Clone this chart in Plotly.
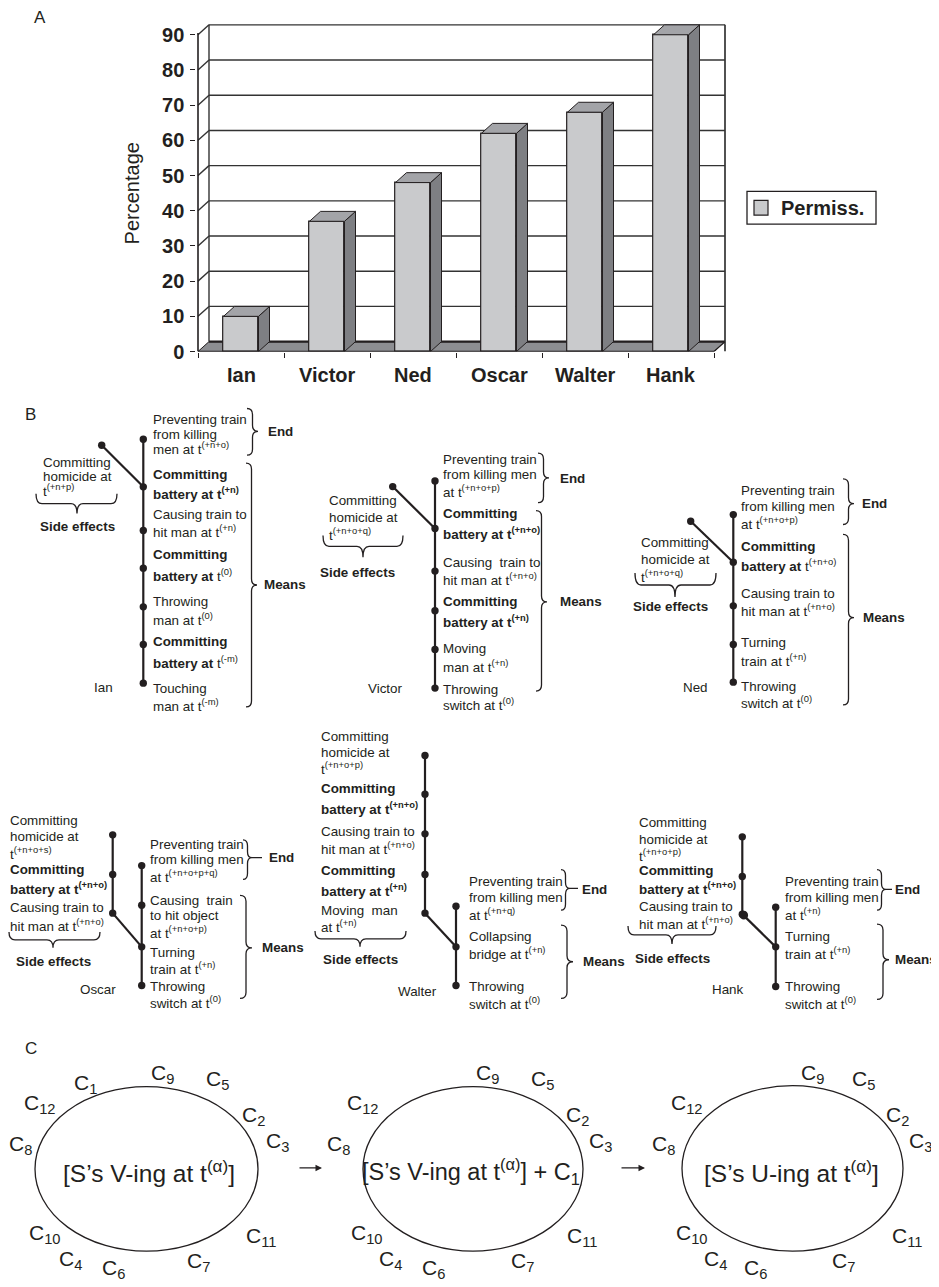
import plotly.graph_objects as go

W, H = 939, 1287
MARGIN = 8                       # default page margin of the browser body
FW, FH = W - MARGIN, H - MARGIN  # figure size so the figure ends at the window edge
INK = "#231f20"
FONT = "Liberation Sans, Arial, Helvetica, sans-serif"

# ---------------- Panel A data ----------------
categories = ["Ian", "Victor", "Ned", "Oscar", "Walter", "Hank"]
permissible_pct = [10, 37, 48, 62, 68, 90]
y_ticks = [0, 10, 20, 30, 40, 50, 60, 70, 80, 90]
series_name = "Permiss."
y_title = "Percentage"

# ---------------- Panel B data (text of each tree) ----------------
ian_main = ["Preventing train", "from killing", "men at t<sup>(+n+o)</sup>",
            "<b>Committing</b>", "<b>battery at t<sup>(+n)</sup></b>",
            "Causing train to", "hit man at t<sup>(+n)</sup>",
            "<b>Committing</b>", "<b>battery at</b> t<sup>(0)</sup>",
            "Throwing", "man at t<sup>(0)</sup>",
            "<b>Committing</b>", "<b>battery at</b> t<sup>(-m)</sup>",
            "Touching", "man at t<sup>(-m)</sup>"]
ian_side = ["Committing", "homicide at", "t<sup>(+n+p)</sup>"]

victor_main = ["Preventing train", "from killing men", "at t<sup>(+n+o+p)</sup>",
               "<b>Committing</b>", "<b>battery at t<sup>(+n+o)</sup></b>",
               "Causing  train to", "hit man at t<sup>(+n+o)</sup>",
               "<b>Committing</b>", "<b>battery at t<sup>(+n)</sup></b>",
               "Moving", "man at t<sup>(+n)</sup>",
               "Throwing", "switch at t<sup>(0)</sup>"]
victor_side = ["Committing", "homicide at", "t<sup>(+n+o+q)</sup>"]

ned_main = ["Preventing train", "from killing men", "at t<sup>(+n+o+p)</sup>",
            "<b>Committing</b>", "<b>battery at</b> t<sup>(+n+o)</sup>",
            "Causing train to", "hit man at t<sup>(+n+o)</sup>",
            "Turning", "train at t<sup>(+n)</sup>",
            "Throwing", "switch at t<sup>(0)</sup>"]
ned_side = ["Committing", "homicide at", "t<sup>(+n+o+q)</sup>"]

oscar_main = ["Preventing train", "from killing men", "at t<sup>(+n+o+p+q)</sup>",
              "Causing  train", "to hit object", "at t<sup>(+n+o+p)</sup>",
              "Turning", "train at t<sup>(+n)</sup>",
              "Throwing", "switch at t<sup>(0)</sup>"]
oscar_side = ["Committing", "homicide at", "t<sup>(+n+o+s)</sup>",
              "<b>Committing</b>", "<b>battery at t<sup>(+n+o)</sup></b>",
              "Causing train to", "hit man at t<sup>(+n+o)</sup>"]

walter_main = ["Preventing train", "from killing men", "at t<sup>(+n+q)</sup>",
               "Collapsing", "bridge at t<sup>(+n)</sup>",
               "Throwing", "switch at t<sup>(0)</sup>"]
walter_side = ["Committing", "homicide at", "t<sup>(+n+o+p)</sup>",
               "<b>Committing</b>", "<b>battery at t<sup>(+n+o)</sup></b>",
               "Causing train to", "hit man at t<sup>(+n+o)</sup>",
               "<b>Committing</b>", "<b>battery at t<sup>(+n)</sup></b>",
               "Moving  man", "at t<sup>(+n)</sup>"]

hank_main = ["Preventing train", "from killing men", "at t<sup>(+n)</sup>",
             "Turning", "train at t<sup>(+n)</sup>",
             "Throwing", "switch at t<sup>(0)</sup>"]
hank_side = ["Committing", "homicide at", "t<sup>(+n+o+p)</sup>",
             "<b>Committing</b>", "<b>battery at t<sup>(+n+o)</sup></b>",
             "Causing train to", "hit man at t<sup>(+n+o)</sup>"]

# ---------------- Panel C data ----------------
c_subs_1 = [1, 9, 5, 12, 2, 8, 3, 10, 11, 4, 6, 7]
c_subs_2 = [9, 5, 12, 2, 8, 3, 10, 11, 4, 6, 7]
c_subs_3 = [9, 5, 12, 2, 8, 3, 10, 11, 4, 6, 7]
c_centers = ["[S\u2019s V-ing at t<sup>(\u03b1)</sup>]",
             "[S\u2019s V-ing at t<sup>(\u03b1)</sup>] + C<sub>1</sub>",
             "[S\u2019s U-ing at t<sup>(\u03b1)</sup>]"]


# ================= helpers (window pixel -> paper) =================
def px(x):
    return (x - MARGIN) / FW


def py(y):
    return 1 - (y - MARGIN) / FH


shapes = []
annotations = []


def add_text(x, y, s, size=13.4, anchor="left", color=INK, bold=False, font=FONT, angle=0):
    if "<sup>" in s:
        y -= 2
    if bold:
        s = "<b>" + s + "</b>"
    annotations.append(dict(x=px(x), y=py(y), xref="paper", yref="paper", text=s,
                            showarrow=False, xanchor=anchor, yanchor="middle",
                            font=dict(family=font, size=size, color=color),
                            textangle=angle))


def add_line(x0, y0, x1, y1, w=2.2, color=INK):
    shapes.append(dict(type="line", xref="paper", yref="paper",
                       x0=px(x0), y0=py(y0), x1=px(x1), y1=py(y1),
                       line=dict(color=color, width=w)))


def add_dot(x, y, r=3.7):
    shapes.append(dict(type="circle", xref="paper", yref="paper",
                       x0=px(x - r), x1=px(x + r), y0=py(y + r), y1=py(y - r),
                       fillcolor=INK, line=dict(color=INK, width=0)))


def P(x, y):
    return f"{px(x):.5f},{py(y):.5f}"


def brace_v(x, y1, y2, ym, w=10, ext=0, r=6):
    xs, xt = x + w * 0.5, x + w
    d = (f"M{P(x, y1)} Q{P(xs, y1)} {P(xs, y1 + r)} L{P(xs, ym - r)} "
         f"Q{P(xs, ym)} {P(xt, ym)} Q{P(xs, ym)} {P(xs, ym + r)} "
         f"L{P(xs, y2 - r)} Q{P(xs, y2)} {P(x, y2)}")
    if ext:
        d += f" M{P(xt, ym)} L{P(xt + ext, ym)}"
    shapes.append(dict(type="path", xref="paper", yref="paper", path=d,
                       line=dict(color=INK, width=1.3)))


def brace_h(x1, x2, y, xm, h=20, r=6):
    ys, yt = y + h * 0.5, y + h
    d = (f"M{P(x1, y)} Q{P(x1, ys)} {P(x1 + r, ys)} L{P(xm - r, ys)} "
         f"Q{P(xm, ys)} {P(xm, yt)} Q{P(xm, ys)} {P(xm + r, ys)} "
         f"L{P(x2 - r, ys)} Q{P(x2, ys)} {P(x2, y)}")
    shapes.append(dict(type="path", xref="paper", yref="paper", path=d,
                       line=dict(color=INK, width=1.3)))


def place_lines(lines, x, ys, size=13.4):
    for s, y in zip(lines, ys):
        add_text(x, y, s, size=size)


# ================= Panel A: faux-3D bar chart =================
FRONT = "#c9cacc"
SIDE = "#7e7f83"
TOP = "#a3a4a8"
FLOOR = "#8d8e92"
EDGE = "#231f20"

X_LEFT_PX = 198.0      # front left edge of plot
CAT_PX = 86.0          # pixels per category
Y0_PX = 354.5          # value 0 (front)
PPU = 3.55             # pixels per percent
DXU = 11.0 / CAT_PX    # depth offset in x units
DZU = 10.0 / PPU       # depth offset in y units
BW = 35.0 / CAT_PX     # bar width

x_rng = [-0.52, 5.72]
y_rng = [0, 94]
xdom = [px(X_LEFT_PX + (x_rng[0] + 0.5) * CAT_PX), px(X_LEFT_PX + (x_rng[1] + 0.5) * CAT_PX)]
ydom = [py(Y0_PX), py(Y0_PX - y_rng[1] * PPU)]

ncat = len(categories)
xs_idx = list(range(ncat))
xl_wall, xr_wall = -0.5, ncat - 0.5
top_v = y_ticks[-1]


def dshape(**kw):
    d = dict(xref="x", yref="y")
    d.update(kw)
    shapes.append(d)


# floor
dshape(type="path", layer="below",
       path=f"M{xl_wall},0 L{xr_wall},0 L{xr_wall + DXU},{DZU} L{xl_wall + DXU},{DZU} Z",
       fillcolor=FLOOR, line=dict(color=EDGE, width=1))
dshape(type="line", layer="below", x0=xl_wall + DXU, y0=DZU, x1=xr_wall + DXU, y1=DZU,
       line=dict(color=EDGE, width=2.2))
# back wall gridlines & left side wall diagonals
for v in y_ticks[1:]:
    dshape(type="line", layer="below", x0=xl_wall + DXU, y0=v + DZU, x1=xr_wall + DXU, y1=v + DZU,
           line=dict(color="#333333", width=1.4))
    dshape(type="line", layer="below", x0=xl_wall, y0=v, x1=xl_wall + DXU, y1=v + DZU,
           line=dict(color="#333333", width=1.4))
# wall verticals
dshape(type="line", layer="below", x0=xl_wall + DXU, y0=DZU, x1=xl_wall + DXU, y1=top_v + DZU,
       line=dict(color="#333333", width=1.4))
dshape(type="line", layer="below", x0=xr_wall + DXU, y0=0, x1=xr_wall + DXU, y1=top_v + DZU,
       line=dict(color="#333333", width=1.7))
dshape(type="line", layer="below", x0=xr_wall, y0=0, x1=xr_wall + DXU, y1=DZU,
       line=dict(color=EDGE, width=1.2))
# front axis lines
dshape(type="line", layer="above", x0=xl_wall, y0=0, x1=xl_wall, y1=top_v + 0.5,
       line=dict(color=EDGE, width=1.6))
dshape(type="line", layer="above", x0=xl_wall, y0=0, x1=xr_wall, y1=0,
       line=dict(color=EDGE, width=1.6))

# bar side and top faces derived from the values
for i, v in zip(xs_idx, permissible_pct):
    xl, xr = i - BW / 2, i + BW / 2
    dshape(type="path", layer="above",
           path=f"M{xr},0 L{xr + DXU},{DZU} L{xr + DXU},{v + DZU} L{xr},{v} Z",
           fillcolor=SIDE, line=dict(color=EDGE, width=1))
    dshape(type="path", layer="above",
           path=f"M{xl},{v} L{xl + DXU},{v + DZU} L{xr + DXU},{v + DZU} L{xr},{v} Z",
           fillcolor=TOP, line=dict(color=EDGE, width=1))

fig = go.Figure()
fig.add_trace(go.Bar(x=xs_idx, y=permissible_pct, width=BW, name=series_name,
                     marker=dict(color=FRONT, line=dict(color=EDGE, width=1.2)),
                     showlegend=False, hoverinfo="skip"))

# category labels (positioned by the x axis)
for i, c in zip(xs_idx, categories):
    annotations.append(dict(x=i, y=py(378), xref="x", yref="paper", text=f"<b>{c}</b>",
                            showarrow=False, xanchor="center", yanchor="middle",
                            font=dict(family=FONT, size=20, color=INK)))

# y title
add_text(132, 195, y_title, size=20, anchor="center", angle=-90)
# legend
shapes.append(dict(type="rect", xref="paper", yref="paper", x0=px(747), x1=px(876),
                   y0=py(226), y1=py(193), line=dict(color=EDGE, width=1.3), fillcolor="white"))
shapes.append(dict(type="rect", xref="paper", yref="paper", x0=px(754), x1=px(768),
                   y0=py(217), y1=py(202), line=dict(color=EDGE, width=1.2), fillcolor=FRONT))
add_text(779, 210, series_name, size=20, bold=True)
# panel letters
add_text(32, 17.5, "A", size=17)
add_text(23, 418, "B", size=17)
add_text(23, 1058, "C", size=17)

# ================= Panel B: trees =================
# ---- Ian
ian_x = 143.3
ian_nodes = [443, 491, 535, 573, 612, 650, 689]
add_line(ian_x, ian_nodes[0], ian_x, ian_nodes[-1])
add_line(101.7, 449, ian_x, ian_nodes[1])
for y in ian_nodes:
    add_dot(ian_x, y)
add_dot(101.7, 449)
place_lines(ian_main, 151, [423, 438, 454, 479, 500, 519, 538, 559, 582, 607, 627, 647, 670, 694, 714])
place_lines(ian_side, 41, [466, 481, 497])
brace_h(36, 117, 498, 77, h=20)
add_text(77, 531, "Side effects", bold=True, anchor="center")
add_text(103, 693, "Ian", anchor="center")
brace_v(247, 412, 459, 435, w=11)
add_text(266, 435, "End", bold=True)
brace_v(246, 467, 713, 590, w=11)
add_text(262, 590, "Means", bold=True)

# ---- Victor
vic_x = 435
vic_nodes = [485, 533, 576, 616, 655, 694]
add_line(vic_x, vic_nodes[0], vic_x, vic_nodes[-1])
add_line(392.7, 490.7, vic_x, vic_nodes[1])
for y in vic_nodes:
    add_dot(vic_x, y)
add_dot(392.7, 490.7)
place_lines(victor_main, 440.5, [463, 479, 498, 518, 540, 567, 586, 607, 629, 654, 674, 695, 713])
place_lines(victor_side, 327, [505, 522, 541])
brace_h(323, 403, 540, 363, h=22)
add_text(357, 577, "Side effects", bold=True, anchor="center")
add_text(385, 694, "Victor", anchor="center")
brace_v(538, 457, 507, 482, w=11)
add_text(558, 483, "End", bold=True)
brace_v(536, 515, 697, 607, w=11)
add_text(558, 607, "Means", bold=True)

# ---- Ned
ned_x = 733.3
ned_nodes = [519, 567, 611, 650, 688]
add_line(ned_x, ned_nodes[0], ned_x, ned_nodes[-1])
add_line(690.7, 525.7, ned_x, ned_nodes[1])
for y in ned_nodes:
    add_dot(ned_x, y)
add_dot(690.7, 525.7)
place_lines(ned_main, 739, [495, 511, 530, 551, 572, 599, 618, 648, 668, 692, 711])
place_lines(ned_side, 639, [547, 564, 583])
brace_h(635, 716, 578, 675, h=24)
add_text(670, 612, "Side effects", bold=True, anchor="center")
add_text(695, 693, "Ned", anchor="center")
brace_v(843, 483, 529, 508, w=11)
add_text(860, 508, "End", bold=True)
brace_v(843, 539, 711, 623, w=11)
add_text(861, 623, "Means", bold=True)

# ---- Oscar
os_side_x, os_main_x = 112.7, 141.7
os_side_nodes = [842, 882, 921]
os_main_nodes = [873, 913, 955, 994]
add_line(os_side_x, os_side_nodes[0], os_side_x, os_side_nodes[-1])
add_line(os_side_x, os_side_nodes[-1], os_main_x, os_main_nodes[2])
add_line(os_main_x, os_main_nodes[0], os_main_x, os_main_nodes[-1])
for y in os_side_nodes:
    add_dot(os_side_x, y)
for y in os_main_nodes:
    add_dot(os_main_x, y)
place_lines(oscar_side, 8, [828, 844, 863, 877, 898, 915, 935])
place_lines(oscar_main, 148, [852, 867, 886, 908, 923, 943, 961, 979, 995, 1013])
brace_h(9, 100, 940, 53, h=16)
add_text(53, 970, "Side effects", bold=True, anchor="center")
add_text(98, 998, "Oscar", anchor="center")
brace_v(243, 847, 887, 865, w=9, ext=10)
add_text(267, 865, "End", bold=True)
brace_v(240, 903, 1007, 956, w=12)
add_text(260, 956, "Means", bold=True)

# ---- Walter
wa_side_x, wa_main_x = 425, 456
wa_side_nodes = [762, 801, 841, 882, 921]
wa_main_nodes = [914, 955, 994]
add_line(wa_side_x, wa_side_nodes[0], wa_side_x, wa_side_nodes[-1])
add_line(wa_side_x, wa_side_nodes[-1], wa_main_x, wa_main_nodes[1])
add_line(wa_main_x, wa_main_nodes[0], wa_main_x, wa_main_nodes[-1])
for y in wa_side_nodes:
    add_dot(wa_side_x, y)
for y in wa_main_nodes:
    add_dot(wa_main_x, y)
place_lines(walter_side, 319, [743, 759, 777, 795, 817, 839, 858, 878, 900, 918, 936])
place_lines(walter_main, 467, [889, 905, 924, 945, 964, 995, 1014])
brace_h(315, 406, 939, 360, h=16)
add_text(360, 968, "Side effects", bold=True, anchor="center")
add_text(417, 1000, "Walter", anchor="center")
brace_v(561, 877, 918, 896, w=9, ext=8)
add_text(580, 897, "End", bold=True)
brace_v(561, 933, 1007, 970, w=12)
add_text(581, 970, "Means", bold=True)

# ---- Hank
hk_side_x, hk_main_x = 742.3, 775.7
hk_side_nodes = [844, 884, 922]
hk_main_nodes = [915, 955, 995]
add_line(hk_side_x, hk_side_nodes[0], hk_side_x, hk_side_nodes[-1])
add_line(hk_side_x, hk_side_nodes[-1], hk_main_x, hk_main_nodes[1])
add_line(hk_main_x, hk_main_nodes[0], hk_main_x, hk_main_nodes[-1])
for y in hk_side_nodes:
    add_dot(hk_side_x, y)
add_dot(hk_side_x + 1.5, hk_side_nodes[-1] + 1, r=4.3)
for y in hk_main_nodes:
    add_dot(hk_main_x, y)
place_lines(hank_side, 637, [830, 847, 865, 878, 898, 914, 933])
place_lines(hank_main, 783, [889, 905, 924, 945, 964, 995, 1014])
brace_h(628, 716, 934, 672, h=18)
add_text(672, 967, "Side effects", bold=True, anchor="center")
add_text(728, 998, "Hank", anchor="center")
brace_v(877, 877, 918, 897, w=9, ext=6)
add_text(893, 897, "End", bold=True)
brace_v(877, 932, 1008, 968, w=12)
add_text(893, 968, "Means", bold=True)

# ================= Panel C: ellipses =================
ellipses = [(35, 258, 1096, 1262), (363, 583, 1096, 1262), (682, 903, 1095, 1262)]
center_pos = [(149, 1184), (471, 1184), (791, 1184)]
center_size = [24.5, 23.5, 24.5]
pos_1 = [(80, 1090), (157, 1080), (212, 1086), (30, 1111), (248, 1123), (15, 1152),
         (272, 1149), (35, 1242), (252, 1245), (65, 1268), (108, 1277), (193, 1270)]
pos_2 = [(482, 1080), (537, 1086), (353, 1111), (572, 1123), (333, 1152),
         (595, 1149), (357, 1242), (573, 1245), (385, 1268), (428, 1277), (517, 1270)]
pos_3 = [(807, 1080), (858, 1086), (677, 1111), (892, 1123), (658, 1152),
         (915, 1149), (682, 1242), (898, 1245), (710, 1268), (750, 1277), (838, 1270)]

for (x0, x1, y0, y1) in ellipses:
    shapes.append(dict(type="circle", xref="paper", yref="paper", x0=px(x0), x1=px(x1),
                       y0=py(y1), y1=py(y0), line=dict(color=INK, width=1.3)))
for s, (x, y), sz in zip(c_centers, center_pos, center_size):
    add_text(x, y, s, size=sz, anchor="center")
for subs, poss in ((c_subs_1, pos_1), (c_subs_2, pos_2), (c_subs_3, pos_3)):
    for n, (x, y) in zip(subs, poss):
        annotations.append(dict(x=px(x - 8), y=py(y + 3), xref="paper", yref="paper",
                                text=f"C<sub>{n}</sub>", showarrow=False,
                                xanchor="left", yanchor="middle",
                                font=dict(family=FONT, size=21, color=INK)))
for (xa, xb) in ((298, 322), (620, 645)):
    annotations.append(dict(x=px(xb), y=py(1178), xref="paper", yref="paper",
                            ax=xa - xb, ay=0, text="", showarrow=True, arrowhead=2,
                            arrowsize=1, arrowwidth=1.3, arrowcolor=INK))

fig.update_layout(
    width=FW, height=FH, margin=dict(l=0, r=0, t=0, b=0),
    paper_bgcolor="white", plot_bgcolor="rgba(0,0,0,0)",
    showlegend=False, bargap=0,
    xaxis=dict(domain=xdom, range=x_rng, showgrid=False, zeroline=False, showline=False,
               showticklabels=False, ticks="", fixedrange=True,
               minor=dict(tick0=-0.5, dtick=1, ticks="outside", ticklen=5,
                          tickcolor=EDGE, tickwidth=1.3, showgrid=False)),
    yaxis=dict(domain=ydom, range=y_rng, showgrid=False, zeroline=False, showline=False,
               tickvals=y_ticks, ticks="outside", ticklen=5, tickcolor=EDGE, tickwidth=1.3,
               tickfont=dict(family=FONT, size=20, color=INK, weight="bold"),
               ticklabelstandoff=2, fixedrange=True),
    shapes=shapes, annotations=annotations,
)

fig.write_html("out.html", config={"displayModeBar": False})
